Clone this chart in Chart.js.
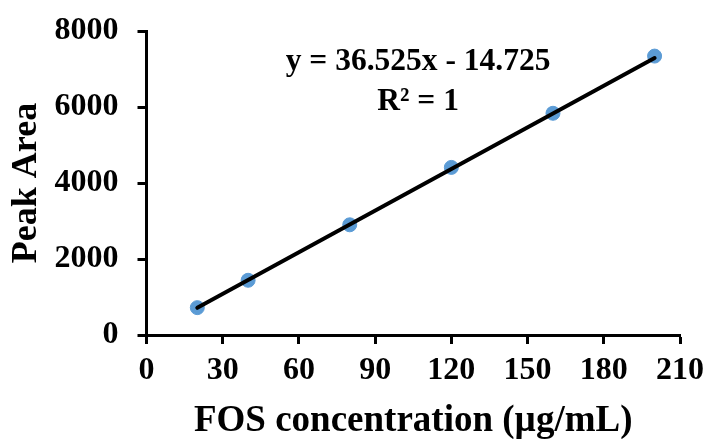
<!DOCTYPE html>
<html>
<head>
<meta charset="utf-8">
<script src="https://cdn.jsdelivr.net/npm/chart.js@4"></script>
<style>
  html, body { margin: 0; padding: 0; background: #fff; }
  #wrap { width: 705px; height: 439px; }
</style>
</head>
<body>
<div id="wrap"><canvas id="c" width="705" height="439"></canvas></div>
<script>
// Data
const concentrations = [20, 40, 80, 120, 160, 200];
const peakAreas = [720, 1440, 2900, 4410, 5835, 7340];
const trendX = [20, 200];
const trendY = [716, 7290];
const xTicks = [0, 30, 60, 90, 120, 150, 180, 210];
const yTicks = [0, 2000, 4000, 6000, 8000];
const equationLines = ['y = 36.525x - 14.725', 'R\u00B2 = 1'];
const xTitle = 'FOS concentration (\u00B5g/mL)';
const yTitle = 'Peak Area';

const FONT = "'Liberation Serif', 'Times New Roman', serif";

const equationPlugin = {
  id: 'equation',
  afterDatasetsDraw(chart) {
    const ctx = chart.ctx;
    const xs = chart.scales.x, ys = chart.scales.y;
    ctx.save();
    ctx.fillStyle = '#000';
    ctx.font = 'bold 31.5px ' + FONT;
    ctx.textAlign = 'center';
    ctx.textBaseline = 'alphabetic';
    const cx = xs.getPixelForValue(106.9);
    ctx.fillText(equationLines[0], cx, ys.getPixelForValue(6970));
    ctx.fillText(equationLines[1], cx, ys.getPixelForValue(5920));
    ctx.restore();
  }
};

new Chart(document.getElementById('c'), {
  type: 'scatter',
  data: {
    datasets: [
      {
        label: 'Linear',
        data: trendX.map((x, i) => ({ x, y: trendY[i] })),
        showLine: true,
        borderColor: '#000',
        borderWidth: 4,
        borderCapStyle: 'round',
        pointRadius: 0,
        pointHoverRadius: 0,
        fill: false
      },
      {
        label: 'Peak Area',
        data: concentrations.map((x, i) => ({ x, y: peakAreas[i] })),
        backgroundColor: '#5B9BD5',
        borderColor: '#5B9BD5',
        pointRadius: 7,
        pointHoverRadius: 7,
        showLine: false
      }
    ]
  },
  options: {
    responsive: false,
    animation: false,
    devicePixelRatio: 1,
    layout: { padding: { top: 31, right: 25, left: 0, bottom: 0 } },
    plugins: {
      legend: { display: false },
      tooltip: { enabled: false }
    },
    scales: {
      x: {
        type: 'linear',
        min: 0, max: 210,
        afterBuildTicks: (s) => { s.ticks = xTicks.map(v => ({ value: v })); },
        afterFit: (s) => { s.height = 104; s.paddingLeft = 0; s.paddingRight = 0; },
        border: { display: true, color: '#000', width: 3 },
        grid: { display: true, drawOnChartArea: false, drawTicks: true, tickLength: 9, tickColor: '#000', tickWidth: 3 },
        ticks: { color: '#000', font: { family: FONT, size: 32, weight: 'bold' }, padding: 8, maxRotation: 0,
                 callback: (v) => String(v) },
        title: { display: true, text: xTitle, color: '#000', font: { family: FONT, size: 37, weight: 'bold', lineHeight: 0.95 }, padding: { top: 0, bottom: 0 } }
      },
      y: {
        type: 'linear',
        min: 0, max: 8000,
        afterBuildTicks: (s) => { s.ticks = yTicks.map(v => ({ value: v })); },
        afterFit: (s) => { s.width = 146.5; s.paddingTop = 0; s.paddingBottom = 0; },
        border: { display: true, color: '#000', width: 3 },
        grid: { display: true, drawOnChartArea: false, drawTicks: true, tickLength: 9, tickColor: '#000', tickWidth: 3 },
        ticks: { color: '#000', font: { family: FONT, size: 32, weight: 'bold' }, padding: 19,
                 callback: (v) => String(v) },
        title: { display: true, text: yTitle, color: '#000', font: { family: FONT, size: 36, weight: 'bold' }, padding: { top: 5, bottom: 0 } }
      }
    }
  },
  plugins: [equationPlugin]
});
</script>
</body>
</html>
